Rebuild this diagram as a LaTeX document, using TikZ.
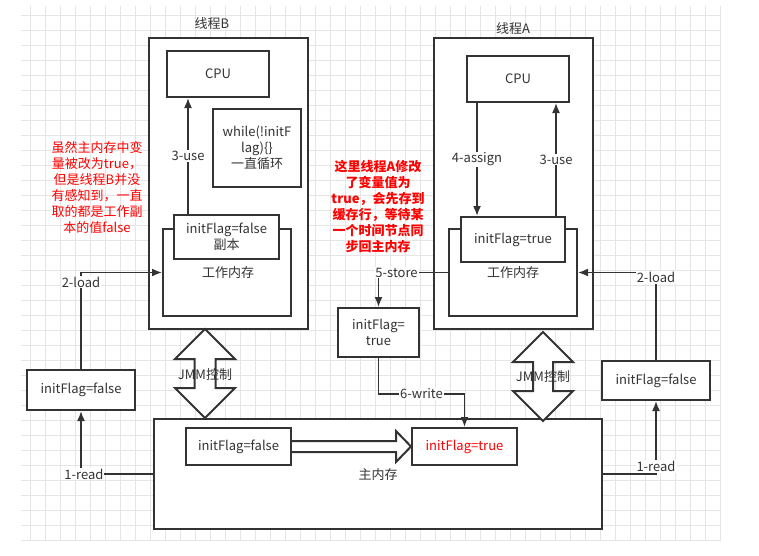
\documentclass[tikz,border=0pt]{standalone}
\usepackage{fontspec}
\setmainfont{Noto Sans CJK SC}
\usetikzlibrary{positioning,arrows.meta}
\definecolor{ink}{HTML}{333333}
\definecolor{note}{HTML}{FF0000}

\begin{document}
\begin{tikzpicture}[
    x=1pt, y=-1pt,
    font=\fontsize{13}{16}\selectfont,
    every node/.style={text=ink},
    frame/.style={
        draw=ink,
        line width=2pt,
        fill=white,
        inner sep=0pt
    },
    box/.style={
        draw=ink,
        line width=2pt,
        fill=white,
        align=center,
        inner sep=0pt
    },
    lbl/.style={align=center, inner sep=1pt},
    tag/.style={fill=white, inner sep=1pt},
    arrow/.style={-{Latex[length=10pt,width=8pt]}, line width=1.6pt, draw=ink},
    hollow/.style={draw=ink, line width=2pt, fill=white, line join=miter},
    redtext/.style={text=note, align=center, font=\fontsize{13}{16}\selectfont}
]

\fill[white] (0,0) rectangle (759,555);
\draw[gray!20, line width=0.5pt, step=15pt] (21,541) grid (720,6);
\useasboundingbox (0,0) rectangle (759,555);

\node[lbl] (titleB) at (212,24) {线程B};
\node[frame, minimum width=159pt, minimum height=291pt] (threadB) at (228.5,183.5) {};
\node[box, minimum width=102pt, minimum height=46pt, font=\fontsize{13}{16}\selectfont] (cpuB) at (218,74) {CPU};
\node[box, minimum width=88pt, minimum height=78pt] (loopB) at (257,148) {while(!initF\\lag)\{\}\\一直循环};
\node[box, minimum width=128pt, minimum height=87pt] (wmB) at (227,272.5) {};
\node[lbl] (wmBtext) at (228,273) {工作内存};
\node[box, minimum width=105pt, minimum height=44pt] (copyB) at (226.5,237) {initFlag=false\\副本};

\node[lbl] (titleA) at (513,29) {线程A};
\node[frame, minimum width=159pt, minimum height=291pt] (threadA) at (513.5,183.5) {};
\node[box, minimum width=102pt, minimum height=46pt, font=\fontsize{13}{16}\selectfont] (cpuA) at (518,79) {CPU};
\node[box, minimum width=128pt, minimum height=87pt] (wmA) at (513,272.5) {};
\node[lbl] (wmAtext) at (513,273) {工作内存};
\node[box, minimum width=104pt, minimum height=45pt] (flagA) at (513,239.5) {initFlag=true};

\node[box, minimum width=81pt, minimum height=49pt] (flagM) at (378.5,332.5) {initFlag=\\true};
\node[box, minimum width=108pt, minimum height=40pt] (flagL) at (81,390) {initFlag=false};
\node[box, minimum width=108pt, minimum height=39pt] (flagR) at (656,380.5) {initFlag=false};

\node[frame, minimum width=448pt, minimum height=110pt] (mainM) at (378,474) {};
\node[lbl] (mainMtext) at (378,475) {主内存};
\node[box, minimum width=105pt, minimum height=37pt] (oldM) at (238.5,446.5) {initFlag=false};
\node[box, minimum width=105pt, minimum height=37pt, text=note] (newM) at (464.5,446.5) {initFlag=true};

\node[redtext] (noteB) at (97,187.5) {虽然主内存中变\\量被改为true，\\但是线程B并没\\有感知到，一直\\取的都是工作副\\本的值false};
\node[redtext, font=\bfseries\fontsize{13}{16}\selectfont] (noteA) at (378,207) {这里线程A修改\\了变量值为\\true，会先存到\\缓存行，等待某\\一个时间节点同\\步回主内存};

\draw[arrow] ([xshift=-38.5pt]copyB.north) -- ([xshift=-38.5pt]copyB.north |- cpuB.south) node[midway, tag] {3-use};
\draw[arrow] ([xshift=-41pt]cpuA.south) -- ([xshift=-41pt]cpuA.south |- flagA.north) node[midway, tag] {4-assign};
\draw[arrow] ([xshift=43pt]flagA.north) -- ([xshift=43pt]flagA.north |- cpuA.south) node[midway, tag] {3-use};

\draw[arrow] (flagL.north) |- node[pos=0.45, tag] {2-load} (wmB.west);
\draw[arrow] (mainM.west) -| node[pos=0.48, tag] {1-read} (flagL.south);
\draw[arrow] (mainM.east) -| node[pos=0.55, tag] {1-read} (flagR.south);
\draw[arrow] (flagR.north) |- node[pos=0.47, tag] {2-load} (wmA.east);
\draw[arrow] (wmA.west) -| node[pos=0.37, tag] {5-store} (flagM.north);
\draw[arrow] (flagM.south) -- ++(0,36) -| node[pos=0.25, tag] {6-write} (newM.north);

\draw[hollow] ([yshift=5.5pt]oldM.east) -- ([xshift=-15pt,yshift=5.5pt]newM.west)
    -- ([xshift=-15pt,yshift=15.5pt]newM.west) -- (newM.west)
    -- ([xshift=-15pt,yshift=-15.5pt]newM.west) -- ([xshift=-15pt,yshift=-5.5pt]newM.west)
    -- ([yshift=-5.5pt]oldM.east);

\coordinate (jmmB) at (205,329);
\coordinate (jmmA) at (543,332);
\draw[hollow] (jmmB) -- ++(30,30) -- ++(-19.5,0) -- ++(0,29) -- ++(19.5,0) -- ++(-30,30)
    -- ++(-30,-30) -- ++(19.5,0) -- ++(0,-29) -- ++(-19.5,0) -- cycle;
\draw[hollow] (jmmA) -- ++(30,30) -- ++(-20,0) -- ++(0,29) -- ++(20,0) -- ++(-30,30)
    -- ++(-30,-30) -- ++(20,0) -- ++(0,-29) -- ++(-20,0) -- cycle;
\node[lbl] (jmmBtext) at (205,375) {JMM控制};
\node[lbl] (jmmAtext) at (543,377) {JMM控制};

\end{tikzpicture}
\end{document}
